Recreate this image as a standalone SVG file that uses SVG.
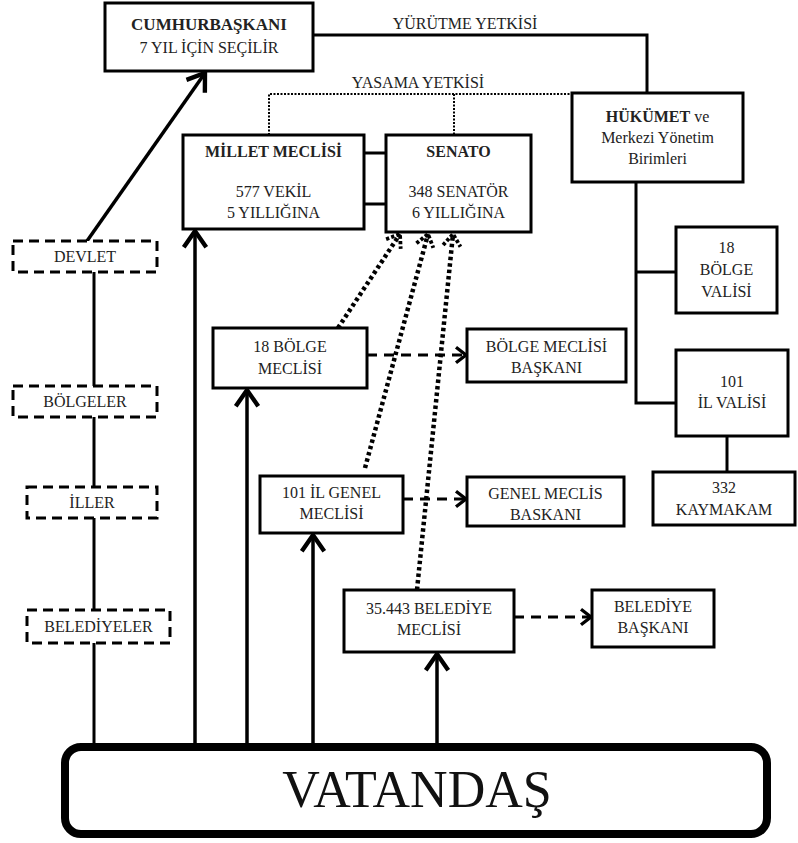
<svg xmlns="http://www.w3.org/2000/svg" width="798" height="843" viewBox="0 0 798 843">
<style>
text{font-family:"Liberation Serif","Times New Roman",serif;font-size:16px;fill:#222;text-anchor:middle}
.b{font-weight:bold}
.box{fill:#fff;stroke:#000;stroke-width:3}
.dbox{fill:#fff;stroke:#000;stroke-width:3;stroke-dasharray:10 6}
.ln{fill:none;stroke:#000;stroke-width:3}
.ar{fill:none;stroke:#000;stroke-width:3.5}
.da{fill:none;stroke:#000;stroke-width:3;stroke-dasharray:10 7}
.dot{fill:none;stroke:#000;stroke-width:4.5;stroke-dasharray:3.5 3}
.ydot{fill:none;stroke:#000;stroke-width:2;stroke-dasharray:2 1.5}
</style>
<defs>
<marker id="ah" markerUnits="userSpaceOnUse" markerWidth="30" markerHeight="30" viewBox="-16 -12 20 24" refX="0" refY="0" orient="auto">
<path d="M-13,-9 L0,0 L-13,9" fill="none" stroke="#000" stroke-width="3.5"/>
</marker>
<marker id="ahs" markerUnits="userSpaceOnUse" markerWidth="20" markerHeight="20" viewBox="-12 -9 15 18" refX="0" refY="0" orient="auto">
<path d="M-9,-7 L0,0 L-9,7" fill="none" stroke="#000" stroke-width="3"/>
</marker>
<marker id="ahd" markerUnits="userSpaceOnUse" markerWidth="24" markerHeight="24" viewBox="-14 -11 18 22" refX="0" refY="0" orient="auto">
<path d="M-11,-8 L0,0 L-11,8" fill="none" stroke="#000" stroke-width="3.5" stroke-dasharray="3 2"/>
</marker>
</defs>

<g id="connectors">
<path class="ln" d="M313,35 H647 V93"/>
<path class="ydot" d="M269,135 V94 H572"/>
<path class="ydot" d="M454,94 V135"/>
<path class="ln" d="M364,153 H386 M364,204 H386"/>
<path class="ln" d="M636,182 V403 H676 M636,272 H676"/>
<path class="ln" d="M727,436 V472"/>
<path class="ln" d="M94,272 V386 M94,417 V487 M94,518 V610 M94,643 V743"/>
<path class="ar" d="M87,241 L205,73" marker-end="url(#ah)"/>
<path class="ar" d="M195,743 V231" marker-end="url(#ah)"/>
<path class="ar" d="M247,743 V390" marker-end="url(#ah)"/>
<path class="ar" d="M313,743 V535" marker-end="url(#ah)"/>
<path class="ar" d="M437,743 V654" marker-end="url(#ah)"/>
<path class="da" d="M367,355 H466" marker-end="url(#ahs)"/>
<path class="da" d="M403,499 H466" marker-end="url(#ahs)"/>
<path class="da" d="M514,617 H591" marker-end="url(#ahs)"/>
<path class="dot" d="M338,328 L400,234" marker-end="url(#ahd)"/>
<path class="dot" d="M365,468 L428,234" marker-end="url(#ahd)"/>
<path class="dot" d="M417,590 L453,234" marker-end="url(#ahd)"/>
<text x="465" y="29">YÜRÜTME YETKİSİ</text>
<text x="418" y="88">YASAMA YETKİSİ</text>
</g>

<g id="cumhurbaskani">
<rect class="box" x="105" y="3" width="208" height="68"/>
<text class="b" x="209" y="30" style="font-size:17px">CUMHURBAŞKANI</text>
<text x="209" y="53">7 YIL İÇİN SEÇİLİR</text>
</g>
<g id="hukumet">
<rect class="box" x="572" y="93" width="171" height="89"/>
<text x="657.5" y="122"><tspan class="b">HÜKÜMET</tspan> ve</text>
<text x="657.5" y="143">Merkezi Yönetim</text>
<text x="657.5" y="164">Birimleri</text>
</g>
<g id="millet-meclisi">
<rect class="box" x="183" y="135" width="181" height="94"/>
<text class="b" x="273.5" y="157">MİLLET MECLİSİ</text>
<text x="273.5" y="197">577 VEKİL</text>
<text x="273.5" y="218">5 YILLIĞINA</text>
</g>
<g id="senato">
<rect class="box" x="386" y="135" width="145" height="97"/>
<text class="b" x="458.5" y="157">SENATO</text>
<text x="458.5" y="197">348 SENATÖR</text>
<text x="458.5" y="218">6 YILLIĞINA</text>
</g>
<g id="bolge-valisi">
<rect class="box" x="676" y="227" width="101" height="86"/>
<text x="726.5" y="253">18</text>
<text x="726.5" y="275">BÖLGE</text>
<text x="726.5" y="297">VALİSİ</text>
</g>
<g id="il-valisi">
<rect class="box" x="676" y="350" width="112" height="86"/>
<text x="732" y="387">101</text>
<text x="732" y="408">İL VALİSİ</text>
</g>
<g id="kaymakam">
<rect class="box" x="653" y="472" width="142" height="53"/>
<text x="724" y="493">332</text>
<text x="724" y="515">KAYMAKAM</text>
</g>
<g id="bolge-meclisi">
<rect class="box" x="213" y="328" width="154" height="60"/>
<text x="290" y="352">18 BÖLGE</text>
<text x="290" y="374">MECLİSİ</text>
</g>
<g id="bolge-meclisi-baskani">
<rect class="box" x="467" y="329" width="159" height="53"/>
<text x="546.5" y="352">BÖLGE MECLİSİ</text>
<text x="546.5" y="373">BAŞKANI</text>
</g>
<g id="il-genel-meclisi">
<rect class="box" x="260" y="476" width="143" height="57"/>
<text x="331.5" y="498">101 İL GENEL</text>
<text x="331.5" y="519">MECLİSİ</text>
</g>
<g id="genel-meclis-baskani">
<rect class="box" x="467" y="477" width="157" height="49"/>
<text x="545.5" y="499">GENEL MECLİS</text>
<text x="545.5" y="520">BASKANI</text>
</g>
<g id="belediye-meclisi">
<rect class="box" x="344" y="590" width="170" height="62"/>
<text x="429" y="614">35.443 BELEDİYE</text>
<text x="429" y="635">MECLİSİ</text>
</g>
<g id="belediye-baskani">
<rect class="box" x="592" y="590" width="122" height="57"/>
<text x="653" y="612">BELEDİYE</text>
<text x="653" y="633">BAŞKANI</text>
</g>
<g id="devlet">
<rect class="dbox" x="13" y="241" width="144" height="31"/>
<text x="85" y="262">DEVLET</text>
</g>
<g id="bolgeler">
<rect class="dbox" x="13" y="386" width="144" height="31"/>
<text x="85" y="407">BÖLGELER</text>
</g>
<g id="iller">
<rect class="dbox" x="27" y="487" width="130" height="31"/>
<text x="92" y="508">İLLER</text>
</g>
<g id="belediyeler">
<rect class="dbox" x="27" y="610" width="143" height="33"/>
<text x="98.5" y="632">BELEDİYELER</text>
</g>
<g id="vatandas">
<rect x="65" y="747" width="702" height="87" rx="16" ry="16" fill="#fff" stroke="#000" stroke-width="8"/>
<text x="417" y="807" style="font-size:52px;fill:#111">VATANDAŞ</text>
</g>
</svg>
